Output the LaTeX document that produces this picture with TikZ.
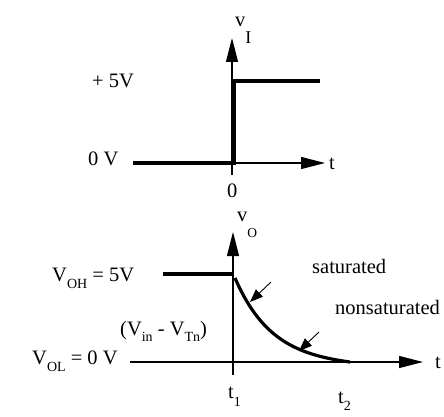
\documentclass[tikz,border=0pt]{standalone}
\usepackage{fontspec}
\setmainfont{Liberation Serif}
\usetikzlibrary{arrows.meta}
\newcommand{\lowered}[3]{\raisebox{-#1}{\fontsize{#2}{#2}\selectfont #3}}

\begin{document}
\begin{tikzpicture}[x=1pt,y=-1pt,
	axis/.style={line width=1.3pt,-{Triangle[length=24pt,width=12pt]}},
	signal/.style={line width=3.6pt,line join=miter},
	pointer/.style={line width=0.9pt,-{Triangle[length=13pt,width=10pt]}},
	lbl/.style={anchor=base west,inner sep=0pt,font=\fontsize{20.5}{24}\selectfont}]
	\useasboundingbox (0,0) rectangle (444,417);

			\draw[axis] (232,175)-- (232,38);
			\draw[axis] (133,163)-- (325,163);
			\draw[signal] (133,163)-- (234,163)-- (234,81)-- (320,81);

				\node[lbl] (vI) at (235,27) {v\lowered{17pt}{18}{I}};
				\node[lbl] (high) at (92,88) {+ 5V};
				\node[lbl] (low) at (88,165) {0 V};
				\node[lbl] (zero) at (227,197) {0};
				\node[lbl] (tin) at (329,169) {t};

			\draw[axis] (233,375)-- (233,232);
			\draw[axis] (130,362)-- (423,362);
			\draw[signal,line width=3.2pt] (163,274)-- (233,274);
			\draw[line width=3.2pt] plot[domain=235:350,samples=60] (\x,{362-84*(exp(-(\x-235)/37)-0.0447*(\x-235)/115)});
			\draw[pointer] (271,282)-- (250,302);
			\draw[pointer] (319,332)-- (299,351);

				\node[lbl] (vO) at (237,221) {v\lowered{16pt}{13.5}{O}};
				\node[lbl] (voh) at (52,281) {V\lowered{7pt}{14}{OH} = 5V};
				\node[lbl] (vin) at (120,335) {(V\lowered{6pt}{14}{in} - V\lowered{6pt}{14}{Tn})};
				\node[lbl] (vol) at (32,364) {V\lowered{7pt}{14}{OL} = 0 V};
				\node[lbl] (sat) at (312,273) {saturated};
				\node[lbl] (nonsat) at (335,314) {nonsaturated};
				\node[lbl] (tout) at (435,368) {t};
				\node[lbl] (t1) at (228,398) {t\lowered{8pt}{14}{1}};
				\node[lbl] (t2) at (338,403) {t\lowered{7pt}{14}{2}};
		\end{tikzpicture}
\end{document}
